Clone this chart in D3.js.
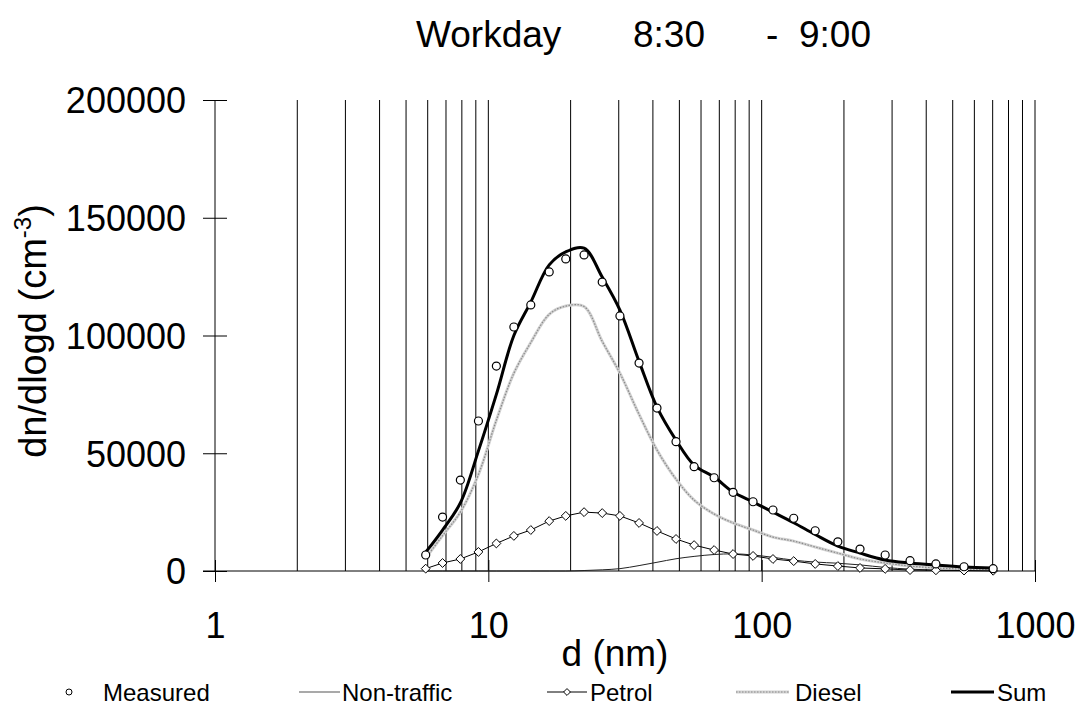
<!DOCTYPE html>
<head>
<meta charset="utf-8">
<title>Workday 8:30 - 9:00</title>
<style>
html, body { margin:0; padding:0; overflow:hidden; background-color:#fff; }
svg { display:block; font-family:"Liberation Sans", Arial, sans-serif; }
</style>
</head>
<body>
<svg id="stage" width="1080" height="709"></svg>
<script src="https://cdn.jsdelivr.net/npm/d3@7"></script>
<script>

// particle diameters (nm) of the size bins
var diam = [5.9, 6.8, 7.9, 9.2, 10.7, 12.4, 14.3, 16.7, 19.2, 22.4, 26.1, 30.3, 35.6, 41.4,
            48.6, 56.6, 67.0, 78.6, 93.0, 110, 131, 157, 190, 229, 283, 349, 434, 550, 703];

var measured = [6800, 22900, 38600, 63700, 87000, 103600, 113000, 127000, 132500, 134200,
                122700, 108300, 88300, 69200, 54900, 44300, 39600, 33400, 29400, 25900,
                22400, 17100, 12400, 9300, 6800, 4400, 3000, 1800, 1000];

var nonTraffic = [0, 0, 0, 0, 0, 0, 0, 0, 0, 200, 500, 1000, 2300, 3700, 5200, 6200, 7000,
                  7300, 6800, 5800, 4600, 3800, 3300, 2600, 1500, 800, 400, 200, 100];

var petrol = [1000, 3400, 5100, 8100, 11700, 14900, 17400, 21200, 23400, 25000, 24600, 23400,
              20400, 17000, 13600, 11000, 8900, 7200, 6400, 5100, 4200, 3000, 2100, 1300,
              900, 400, 300, 200, 100];

var diesel = [5500, 15000, 25000, 41000, 64000, 84000, 97000, 109000, 112500, 112300, 97500,
              84000, 66500, 51400, 39000, 30100, 24200, 20400, 17400, 14400, 12700, 10200,
              7600, 5100, 3400, 2100, 1300, 800, 600];

var sum = [8000, 17400, 28900, 51000, 75000, 100000, 114200, 130000, 135500, 137100, 124800,
           110800, 89000, 69600, 55600, 45000, 39900, 33500, 29300, 25000, 20500, 15500,
           10600, 7600, 4700, 3400, 2500, 1700, 1300];

var yTicks = [0, 50000, 100000, 150000, 200000];
var xTicks = [1, 10, 100, 1000];
var legendNames = ["Measured", "Non-traffic", "Petrol", "Diesel", "Sum"];

var svg = d3.select("#stage");

var x = d3.scaleLog().domain([1, 1000]).range([215, 1035]);
var y = d3.scaleLinear().domain([0, 200000]).range([571, 100]);

// vertical grid at every log step
svg.append("g").selectAll("line")
  .data(x.ticks().filter(function(d) { return d > 1; }))
  .enter().append("line")
    .attr("x1", function(d) { return x(d); })
    .attr("x2", function(d) { return x(d); })
    .attr("y1", y(200000))
    .attr("y2", y(0))
    .attr("stroke", "#000")
    .attr("stroke-width", 1);

// y axis
var yAxis = svg.append("g")
  .attr("transform", "translate(" + x(1) + ",0)")
  .call(d3.axisLeft(y).tickValues(yTicks).tickFormat(d3.format("d")).tickSize(12));
yAxis.select(".domain").remove();
yAxis.selectAll(".tick line").attr("x1", -12).attr("x2", 12).attr("stroke", "#000");
yAxis.selectAll(".tick text")
  .attr("x", -29).attr("dy", "0.36em")
  .style("font-size", "36px").style("font-family", "Liberation Sans, Arial, sans-serif");
svg.append("line")
  .attr("x1", x(1)).attr("x2", x(1))
  .attr("y1", y(200000)).attr("y2", y(0))
  .attr("stroke", "#000");

// x axis
var xAxis = svg.append("g")
  .attr("transform", "translate(0," + y(0) + ")")
  .call(d3.axisBottom(x).tickValues(xTicks).tickFormat(d3.format("d")).tickSize(11));
xAxis.select(".domain").remove();
xAxis.selectAll(".tick line").attr("y1", -11).attr("stroke", "#000");
xAxis.selectAll(".tick text")
  .attr("y", 67).attr("dy", 0)
  .style("font-size", "36px").style("font-family", "Liberation Sans, Arial, sans-serif");
svg.append("line")
  .attr("x1", x(1) - 12).attr("x2", x(1000))
  .attr("y1", y(0)).attr("y2", y(0))
  .attr("stroke", "#000");

// series
var pts = function(vals) { return vals.map(function(v, i) { return [diam[i], v]; }); };

var smooth = d3.line()
  .x(function(d) { return x(d[0]); })
  .y(function(d) { return y(d[1]); })
  .curve(d3.curveCatmullRom.alpha(0.5));

var monotone = d3.line()
  .x(function(d) { return x(d[0]); })
  .y(function(d) { return y(d[1]); })
  .curve(d3.curveMonotoneX);

var straight = d3.line()
  .x(function(d) { return x(d[0]); })
  .y(function(d) { return y(d[1]); });

svg.append("path")
  .attr("d", monotone(pts(nonTraffic)))
  .attr("fill", "none").attr("stroke", "#222").attr("stroke-width", 1);

svg.append("path")
  .attr("d", smooth(pts(diesel)))
  .attr("fill", "none").attr("stroke", "#d2d2d2").attr("stroke-width", 3);
svg.append("path")
  .attr("d", smooth(pts(diesel)))
  .attr("fill", "none").attr("stroke", "#8a8a8a").attr("stroke-width", 1.2)
  .attr("stroke-dasharray", "1.5,1.5");

svg.append("path")
  .attr("d", straight(pts(petrol)))
  .attr("fill", "none").attr("stroke", "#000").attr("stroke-width", 1);

var diamond = d3.symbol().type(d3.symbolDiamond2).size(50);
svg.append("g").selectAll("path")
  .data(pts(petrol))
  .enter().append("path")
    .attr("d", diamond)
    .attr("transform", function(d) { return "translate(" + x(d[0]) + "," + y(d[1]) + ")"; })
    .attr("fill", "#fff").attr("stroke", "#000").attr("stroke-width", 1);

svg.append("path")
  .attr("d", smooth(pts(sum)))
  .attr("fill", "none").attr("stroke", "#000").attr("stroke-width", 3);

svg.append("g").selectAll("circle")
  .data(pts(measured))
  .enter().append("circle")
    .attr("cx", function(d) { return x(d[0]); })
    .attr("cy", function(d) { return y(d[1]); })
    .attr("r", 4)
    .attr("fill", "#fff").attr("stroke", "#000").attr("stroke-width", 1.2);

// titles
var title = svg.append("text").attr("y", 47).style("font-size", "37px");
title.append("tspan").attr("x", 416).text("Workday");
title.append("tspan").attr("x", 633).text("8:30");
title.append("tspan").attr("x", 766).text("-");
title.append("tspan").attr("x", 799).text("9:00");

svg.append("text")
  .attr("x", 615).attr("y", 666)
  .attr("text-anchor", "middle")
  .style("font-size", "37px")
  .text("d (nm)");

var yt = svg.append("text")
  .attr("transform", "translate(46,331) rotate(-90)")
  .attr("text-anchor", "middle")
  .style("font-size", "38px");
yt.append("tspan").text("dn/dlogd (cm");
yt.append("tspan").attr("dy", -15).style("font-size", "24px").text("-3");
yt.append("tspan").attr("dy", 15).text(")");

// legend
var ly = 692;
var leg = svg.append("g").style("font-size", "24px");

leg.append("circle").attr("cx", 69).attr("cy", ly).attr("r", 3)
  .attr("fill", "#fff").attr("stroke", "#000").attr("stroke-width", 1);
leg.append("line").attr("x1", 299).attr("x2", 340).attr("y1", ly).attr("y2", ly)
  .attr("stroke", "#555").attr("stroke-width", 1.2);
leg.append("line").attr("x1", 547).attr("x2", 587).attr("y1", ly).attr("y2", ly)
  .attr("stroke", "#000").attr("stroke-width", 1);
leg.append("path").attr("d", d3.symbol().type(d3.symbolDiamond2).size(30))
  .attr("transform", "translate(567," + ly + ")")
  .attr("fill", "#fff").attr("stroke", "#000");
leg.append("line").attr("x1", 736).attr("x2", 789).attr("y1", ly).attr("y2", ly)
  .attr("stroke", "#d2d2d2").attr("stroke-width", 3);
leg.append("line").attr("x1", 736).attr("x2", 789).attr("y1", ly).attr("y2", ly)
  .attr("stroke", "#8a8a8a").attr("stroke-width", 1.2).attr("stroke-dasharray", "1.5,1.5");
leg.append("line").attr("x1", 951).attr("x2", 994).attr("y1", ly).attr("y2", ly)
  .attr("stroke", "#000").attr("stroke-width", 3);

var legX = [103, 342, 590, 795, 997];
leg.selectAll("text.lg")
  .data(legendNames)
  .enter().append("text")
    .attr("class", "lg")
    .attr("x", function(d, i) { return legX[i]; })
    .attr("y", ly + 9)
    .text(function(d) { return d; });

</script>
</body>
